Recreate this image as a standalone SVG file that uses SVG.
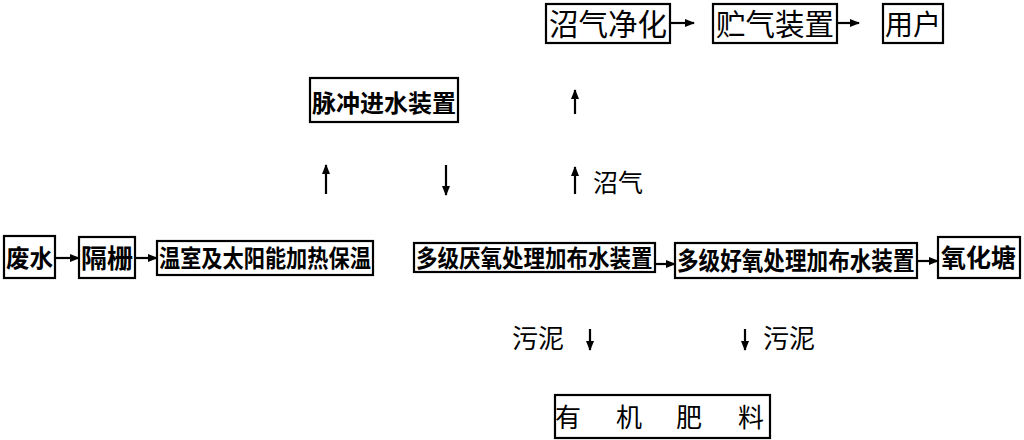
<svg xmlns="http://www.w3.org/2000/svg" width="1024" height="440" viewBox="0 0 1024 440">
<defs>
<marker id="ah" markerUnits="userSpaceOnUse" markerWidth="10" markerHeight="8" refX="9" refY="4" orient="auto">
<path d="M0,0 L10,4 L0,8 Z" fill="#000"/>
</marker>
<style>
.box{fill:#fff;stroke:#000;stroke-width:2.2}
.t{font-family:"Noto Sans CJK SC","Noto Sans CJK JP",sans-serif;fill:#000}
.b{font-weight:bold}
.c{stroke:#000;stroke-width:2.2;fill:none;marker-end:url(#ah)}
</style>
</defs>
<rect width="1024" height="440" fill="#fff"/>
<g id="n1"><rect class="box" x="4" y="236" width="51" height="42"/><text class="t b" x="6" y="267" font-size="23.5">废水</text></g>
<g id="n2"><rect class="box" x="79" y="237" width="56" height="41"/><text class="t b" x="81" y="268" font-size="26">隔栅</text></g>
<g id="n3"><rect class="box" x="157" y="241" width="216" height="34"/><text class="t b" transform="translate(159,267) scale(1,1.15)" font-size="21.2">温室及太阳能加热保温</text></g>
<g id="n4"><rect class="box" x="414" y="243" width="241" height="29"/><text class="t b" transform="translate(416,267) scale(1,1.1)" font-size="21.5">多级厌氧处理加布水装置</text></g>
<g id="n5"><rect class="box" x="675" y="243" width="242" height="35"/><text class="t b" transform="translate(677,270) scale(1,1.15)" font-size="21.6">多级好氧处理加布水装置</text></g>
<g id="n6"><rect class="box" x="938" y="237" width="82" height="41"/><text class="t b" x="941" y="267" font-size="25">氧化塘</text></g>
<g id="n7"><rect class="box" x="546" y="4" width="124" height="39"/><text class="t" x="549" y="35" font-size="29.5">沼气净化</text></g>
<g id="n8"><rect class="box" x="713" y="4" width="124" height="39"/><text class="t" x="716" y="35" font-size="29.5">贮气装置</text></g>
<g id="n9"><rect class="box" x="883" y="4" width="60" height="39"/><text class="t" x="885" y="35" font-size="28">用户</text></g>
<g id="n10"><rect class="box" x="310" y="78" width="148" height="44"/><text class="t b" x="312" y="112" font-size="24">脉冲进水装置</text></g>
<g id="n11"><rect class="box" x="555" y="395" width="215" height="43"/><text class="t" y="427" font-size="26"><tspan x="555">有</tspan><tspan x="616">机</tspan><tspan x="676">肥</tspan><tspan x="738">料</tspan></text></g>
<g id="connectors">
<line class="c" x1="55" y1="258" x2="79" y2="258"/>
<line class="c" x1="135" y1="258" x2="157" y2="258"/>
<line class="c" x1="655" y1="264" x2="675" y2="264"/>
<line class="c" x1="917" y1="261" x2="938" y2="261"/>
<line class="c" x1="670" y1="23" x2="694" y2="23"/>
<line class="c" x1="837" y1="23" x2="859" y2="23"/>
<line class="c" x1="326" y1="194" x2="326" y2="165"/>
<line class="c" x1="446" y1="165" x2="446" y2="195"/>
<line class="c" x1="575" y1="194" x2="575" y2="167"/>
<line class="c" x1="575" y1="114" x2="575" y2="90"/>
<line class="c" x1="590" y1="329" x2="590" y2="350"/>
<line class="c" x1="745" y1="329" x2="745" y2="350"/>
</g>
<g id="labels">
<text class="t" x="593" y="192" font-size="25">沼气</text>
<text class="t" x="512" y="348" font-size="26">污泥</text>
<text class="t" x="763" y="348" font-size="26">污泥</text>
</g>
</svg>
